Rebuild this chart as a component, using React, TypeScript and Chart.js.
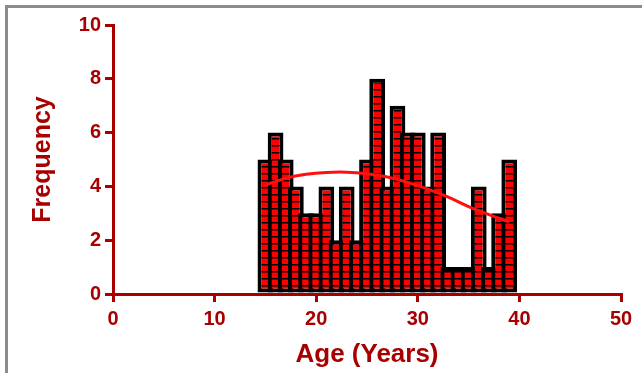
import React, { useEffect, useRef } from 'react';
import { Chart, registerables } from 'chart.js';

Chart.register(...registerables);

// Histogram bins (age, years) and counts
const ages = [15, 16, 17, 18, 19, 20, 21, 22, 23, 24, 25, 26, 27, 28, 29, 30, 31, 32, 33, 34, 35, 36, 37, 38, 39];
const frequencies = [5, 6, 5, 4, 3, 3, 4, 2, 4, 2, 5, 8, 4, 7, 6, 6, 4, 6, 1, 1, 1, 4, 1, 3, 5];

// Fitted curve
const fitAges = [15, 17, 19, 21, 23, 25, 27, 29, 31, 33, 35, 37, 39];
const fitValues = [4.05, 4.3, 4.45, 4.52, 4.53, 4.47, 4.35, 4.15, 3.9, 3.6, 3.25, 2.95, 2.68];

const xTickValues = [0, 10, 20, 30, 40, 50];
const yTickValues = [0, 2, 4, 6, 8, 10];

const AXIS = '#a80000';

function makePattern(): CanvasPattern | string {
  const c = document.createElement('canvas');
  c.width = 1;
  c.height = 7;
  const g = c.getContext('2d');
  if (!g) return '#ff0000';
  g.fillStyle = '#ff0000';
  g.fillRect(0, 0, 1, 7);
  g.fillStyle = '#000000';
  g.fillRect(0, 5, 1, 1);
  g.fillStyle = '#7a0000';
  g.fillRect(0, 6, 1, 1);
  const p = g.createPattern(c, 'repeat');
  return p || '#ff0000';
}

export default function App() {
  const ref = useRef<HTMLCanvasElement | null>(null);

  useEffect(() => {
    if (!ref.current) return;
    const pattern = makePattern();
    const tickFont = { family: '"Liberation Sans", Arial, sans-serif', size: 20, weight: 'bold' as const };
    const yTitleFont = { family: '"Liberation Sans", Arial, sans-serif', size: 25, weight: 'bold' as const };
    const xTitleFont = { family: '"Liberation Sans", Arial, sans-serif', size: 26, weight: 'bold' as const };

    const chart = new Chart(ref.current, {
      type: 'bar',
      data: {
        datasets: [
          {
            type: 'line',
            label: 'Fit',
            data: fitAges.map((a, i) => ({ x: a, y: fitValues[i] })),
            borderColor: '#ff1010',
            borderWidth: 3,
            pointRadius: 0,
            tension: 0.4,
            fill: false,
            order: 0,
          } as any,
          {
            type: 'bar',
            label: 'Frequency',
            data: ages.map((a, i) => ({ x: a, y: frequencies[i] })),
            backgroundColor: pattern as any,
            borderColor: '#000000',
            borderWidth: 4,
            borderSkipped: false,
            barPercentage: 1.55,
            categoryPercentage: 1,
            order: 1,
          } as any,
        ],
      },
      options: {
        animation: false,
        responsive: false,
        maintainAspectRatio: false,
        layout: { padding: { top: 25, right: 21, left: 0, bottom: 0 } },
        plugins: { legend: { display: false }, tooltip: { enabled: false } },
        scales: {
          x: {
            type: 'linear',
            min: 0,
            max: 50,
            offset: false,
            afterBuildTicks: (s: any) => {
              s.ticks = xTickValues.map((v) => ({ value: v }));
            },
            afterFit: (s: any) => {
              s.height = 79;
            },
            grid: {
              offset: false,
              drawOnChartArea: false,
              drawTicks: true,
              tickLength: 8,
              color: AXIS,
              lineWidth: 3,
            },
            border: { display: true, color: AXIS, width: 3 },
            ticks: { color: AXIS, font: tickFont, padding: 5, maxRotation: 0 },
            title: {
              display: true,
              text: 'Age (Years)',
              color: AXIS,
              font: xTitleFont,
              padding: { top: 0, bottom: 3 },
            },
          },
          y: {
            type: 'linear',
            min: 0,
            max: 10,
            afterBuildTicks: (s: any) => {
              s.ticks = yTickValues.map((v) => ({ value: v }));
            },
            afterFit: (s: any) => {
              s.width = 113;
            },
            grid: {
              drawOnChartArea: false,
              drawTicks: true,
              tickLength: 8,
              color: AXIS,
              lineWidth: 3,
            },
            border: { display: true, color: AXIS, width: 3 },
            ticks: { color: AXIS, font: tickFont, padding: 4 },
            title: {
              display: true,
              text: 'Frequency',
              color: AXIS,
              font: yTitleFont,
              padding: { top: 28, bottom: 0 },
            },
          },
        },
      },
    });
    return () => chart.destroy();
  }, []);

  return (
    <div style={{ position: 'fixed', left: 0, top: 0, width: 642, height: 373, overflow: 'hidden', background: '#ffffff' }}>
      <div
        style={{
          position: 'absolute',
          left: 5,
          top: 5,
          width: 700,
          height: 500,
          border: '3px solid #8c8c8c',
          boxSizing: 'border-box',
        }}
      />
      <canvas ref={ref} width={642} height={373} style={{ position: 'absolute', left: 0, top: 0, width: 642, height: 373 }} />
    </div>
  );
}
